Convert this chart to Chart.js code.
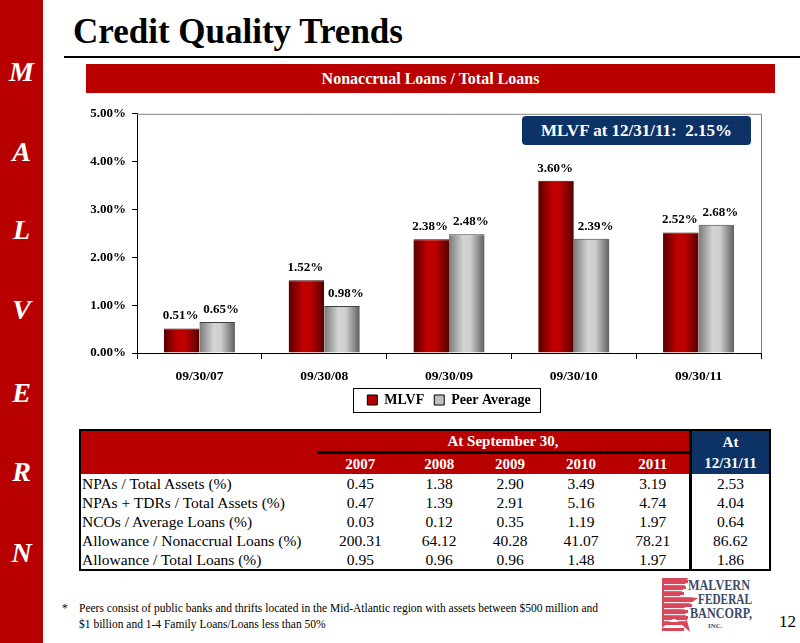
<!DOCTYPE html>
<html>
<head>
<meta charset="utf-8">
<script src="https://cdn.jsdelivr.net/npm/chart.js@4.4.1/dist/chart.umd.min.js"></script>
<style>
  html, body { margin: 0; padding: 0; background: #fff; }
  body { width: 800px; height: 643px; position: relative; overflow: hidden; font-family: "Liberation Serif", "DejaVu Serif", serif; }
  #side { position: absolute; left: 0; top: 0; width: 43px; height: 643px; background: #B80000; }
  .sl { position: absolute; left: 0; width: 43px; text-align: center; color: #fff; font: italic bold 28px "Liberation Serif", serif; line-height: 28px; }
  #title { position: absolute; left: 73px; top: 12px; font: bold 35px "Liberation Serif", serif; color: #000; white-space: nowrap; }
  #tline { position: absolute; left: 64px; top: 56px; width: 736px; height: 2px; background: #000; }
  #banner { position: absolute; left: 86px; top: 64px; width: 689px; height: 29px; background: #B80000; color: #fff; font: bold 16px "Liberation Serif", serif; text-align: center; line-height: 29px; }
  #chartbox { position: absolute; left: 80px; top: 100px; width: 700px; height: 320px; }
  #callout { position: absolute; left: 522px; top: 116px; width: 229px; height: 29px; background: #0D3366; border-radius: 4px; color: #fff; font: bold 17px "Liberation Serif", serif; text-align: center; line-height: 29px; white-space: pre; }
  table { position: absolute; left: 79px; top: 429px; width: 692px; border-collapse: collapse; border: 2px solid #000; font: 15.5px "Liberation Serif", serif; }
  td { padding: 0; height: 19px; line-height: 19px; text-align: center; }
  td.lab { text-align: left; padding-left: 1px; width: 235px; }
  tr.h td { background: #B80000; color: #fff; font-weight: bold; height: 20px; line-height: 20px; font-size: 15px; }
  td.nv { background: #0D3366 !important; border-left: 3px solid #000; width: 77px; }
  td.nvb { border-left: 3px solid #000; }
  td.ul { border-bottom: 3px solid #000; }
  #foot { position: absolute; left: 62px; top: 600px; font: 11.5px "Liberation Serif", serif; line-height: 16px; color: #000; }
  #pg { position: absolute; left: 779px; top: 612px; font: 17px "Liberation Serif", serif; }
  #logo { position: absolute; left: 660px; top: 576px; }
</style>
</head>
<body>
<div id="side"></div>
<div id="title">Credit Quality Trends</div>
<div id="tline"></div>
<div id="banner">Nonaccrual Loans / Total Loans</div>
<div id="chartbox"><canvas id="c" width="700" height="320"></canvas></div>
<div id="callout">MLVF at 12/31/11:  2.15%</div>
<table id="tbl"></table>
<div id="foot"><span style="display:inline-block;width:17px">*</span>Peers consist of public banks and thrifts located in the Mid-Atlantic region with assets between $500 million and<br><span style="display:inline-block;width:17px"></span>$1 billion and 1-4 Family Loans/Loans less than 50%</div>
<svg id="logo" width="96" height="58" viewBox="0 0 96 58">
  <g fill="#D9485A">
    <rect x="2" y="4" width="26" height="3"/>
    <rect x="2" y="10" width="24" height="3"/>
    <rect x="2" y="16" width="22" height="3"/>
    <rect x="2" y="22" width="30" height="3"/>
    <rect x="2" y="28" width="30" height="3"/>
    <rect x="2" y="34" width="26" height="3"/>
    <rect x="2" y="40" width="26" height="3"/>
    <rect x="2" y="46" width="24" height="3"/>
    <rect x="2" y="52" width="22" height="3"/>
    <polygon points="2,2 28,2 20,20 38,22 24,32 30,56 14,42 2,52"/>
  </g>
  <g fill="#fff" opacity="0.9">
    <rect x="4" y="8" width="22" height="1.2"/>
    <rect x="4" y="14" width="20" height="1.2"/>
    <rect x="4" y="20" width="26" height="1.2"/>
    <rect x="4" y="26" width="30" height="1.2"/>
    <rect x="4" y="32" width="26" height="1.2"/>
    <rect x="4" y="38" width="24" height="1.2"/>
    <rect x="4" y="44" width="22" height="1.2"/>
    <rect x="4" y="50" width="20" height="1.2"/>
  </g>
  <g fill="#3B4A6B" font-family="Liberation Serif, serif" font-weight="bold">
    <text x="28" y="14" font-size="15" textLength="62" lengthAdjust="spacingAndGlyphs">MALVERN</text>
    <text x="38" y="28" font-size="15" textLength="54" lengthAdjust="spacingAndGlyphs">FEDERAL</text>
    <text x="30" y="42" font-size="15" textLength="62" lengthAdjust="spacingAndGlyphs">BANCORP,</text>
    <text x="48" y="52" font-size="7">INC.</text>
  </g>
</svg>
<div id="pg">12</div>
<script>
// ---- Data ----
const categories = ["09/30/07", "09/30/08", "09/30/09", "09/30/10", "09/30/11"];
const mlvfValues = [0.51, 1.52, 2.38, 3.60, 2.52];
const peerValues = [0.65, 0.98, 2.48, 2.39, 2.68];
const seriesNames = ["MLVF", "Peer Average"];
const yTicks = [0, 1, 2, 3, 4, 5];

const sideLetters = ["M", "A", "L", "V", "E", "R", "N"];
const sideTops = [58, 138, 216, 296, 379, 458, 539];

const tableYears = ["2007", "2008", "2009", "2010", "2011"];
const tableHeaderGroup = "At September 30,";
const tableLastHead = ["At", "12/31/11"];
const tableRowLabels = ["NPAs / Total Assets (%)", "NPAs + TDRs / Total Assets (%)", "NCOs / Average Loans (%)", "Allowance / Nonaccrual Loans (%)", "Allowance / Total Loans (%)"];
const tableValues = [
  ["0.45", "1.38", "2.90", "3.49", "3.19", "2.53"],
  ["0.47", "1.39", "2.91", "5.16", "4.74", "4.04"],
  ["0.03", "0.12", "0.35", "1.19", "1.97", "0.64"],
  ["200.31", "64.12", "40.28", "41.07", "78.21", "86.62"],
  ["0.95", "0.96", "0.96", "1.48", "1.97", "1.86"]
];

// ---- Sidebar letters ----
const side = document.getElementById('side');
sideLetters.forEach((l, i) => {
  const d = document.createElement('div');
  d.className = 'sl'; d.style.top = sideTops[i] + 'px'; d.textContent = l;
  side.appendChild(d);
});

// ---- Table ----
const tbl = document.getElementById('tbl');
let html = '<tr class="h"><td class="lab"></td><td colspan="5" class="ul">' + tableHeaderGroup + '</td><td class="nv">' + tableLastHead[0] + '</td></tr>';
html += '<tr class="h"><td class="lab"></td>' + tableYears.map(y => '<td>' + y + '</td>').join('') + '<td class="nv">' + tableLastHead[1] + '</td></tr>';
tableRowLabels.forEach((lab, r) => {
  html += '<tr><td class="lab">' + lab + '</td>' + tableValues[r].map((v, j) => '<td' + (j === 5 ? ' class="nvb"' : '') + '>' + v + '</td>').join('') + '</tr>';
});
tbl.innerHTML = html;

// ---- Chart ----
const FONT = "'Liberation Serif', serif";

const gradientBars = {
  id: 'gradientBars',
  beforeDatasetsDraw(chart) {
    const ctx = chart.ctx;
    chart.data.datasets.forEach((ds, di) => {
      const meta = chart.getDatasetMeta(di);
      meta.data.forEach(bar => {
        const half = bar.width / 2;
        const g = ctx.createLinearGradient(bar.x - half, 0, bar.x + half, 0);
        if (di === 0) {
          g.addColorStop(0, '#5A0000');
          g.addColorStop(0.4, '#C00000');
          g.addColorStop(0.6, '#C00000');
          g.addColorStop(1, '#560000');
        } else {
          g.addColorStop(0, '#7A7A7A');
          g.addColorStop(0.4, '#D4D4D4');
          g.addColorStop(0.6, '#CFCFCF');
          g.addColorStop(1, '#5E5E5E');
        }
        bar.options = Object.assign({}, bar.options, { backgroundColor: g });
      });
    });
  }
};

const labelShift = [-1, 4];

const labelsAndFrame = {
  id: 'labelsAndFrame',
  afterDatasetsDraw(chart) {
    const ctx = chart.ctx;
    const a = chart.chartArea;
    ctx.save();
    ctx.strokeStyle = '#808080';
    ctx.lineWidth = 1;
    ctx.beginPath();
    ctx.moveTo(a.left, a.top + 0.5); ctx.lineTo(Math.round(a.right) + 0.5, a.top + 0.5); ctx.lineTo(Math.round(a.right) + 0.5, a.bottom);
    ctx.stroke();
    ctx.font = "bold 13px " + FONT;
    ctx.fillStyle = '#000';
    ctx.textAlign = 'center';
    ctx.textBaseline = 'bottom';
    chart.data.datasets.forEach((ds, di) => {
      const meta = chart.getDatasetMeta(di);
      meta.data.forEach((bar, i) => {
        ctx.fillText(ds.data[i].toFixed(2) + '%', bar.x + labelShift[di], bar.y - 6);
      });
    });
    ctx.restore();
  },
  afterDraw(chart) {
    const lg = chart.legend;
    if (!lg || !lg.legendHitBoxes || !lg.legendHitBoxes.length) return;
    const boxes = lg.legendHitBoxes;
    let l = Infinity, r = -Infinity, t = Infinity, b = -Infinity;
    boxes.forEach(h => { l = Math.min(l, h.left); r = Math.max(r, h.left + h.width); t = Math.min(t, h.top); b = Math.max(b, h.top + h.height); });
    const ctx = chart.ctx;
    ctx.save();
    ctx.strokeStyle = '#000';
    ctx.lineWidth = 1;
    ctx.strokeRect(Math.round(l - 14) + 0.5, Math.round(t - 5) + 0.5, Math.round(r - l + 24), Math.round(b - t + 10));
    ctx.restore();
  }
};

new Chart(document.getElementById('c'), {
  type: 'bar',
  data: {
    labels: categories,
    datasets: [
      { label: seriesNames[0], data: mlvfValues, backgroundColor: '#B00000', borderColor: '#3A0000', borderWidth: { top: 1, left: 0, right: 0, bottom: 0 }, borderSkipped: false },
      { label: seriesNames[1], data: peerValues, backgroundColor: '#BBBBBB', borderColor: '#404040', borderWidth: { top: 1, left: 0, right: 0, bottom: 0 }, borderSkipped: false }
    ]
  },
  options: {
    responsive: false,
    animation: false,
    devicePixelRatio: 1,
    layout: { padding: { top: 13, right: 19, left: 0, bottom: 3 } },
    datasets: { bar: { barPercentage: 1.0, categoryPercentage: 0.57 } },
    scales: {
      x: {
        offset: true,
        grid: { display: true, offset: true, drawOnChartArea: false, drawTicks: true, tickLength: 6, color: '#000' },
        border: { color: '#000', width: 1 },
        ticks: { color: '#000', font: { family: FONT, size: 13.5, weight: 'bold' }, padding: 9, maxRotation: 0 },
        afterFit(s) { s.height = 30; }
      },
      y: {
        min: 0, max: 5,
        afterBuildTicks(s) { s.ticks = yTicks.map(v => ({ value: v })); },
        grid: { display: true, drawOnChartArea: false, drawTicks: true, tickLength: 5, color: '#000' },
        border: { color: '#000', width: 1 },
        ticks: { color: '#000', font: { family: FONT, size: 13, weight: 'bold' }, padding: 6, callback: v => v.toFixed(2) + '%' },
        afterFit(s) { s.width = 57; }
      }
    },
    plugins: {
      legend: {
        display: true,
        position: 'bottom',
        fullSize: false,
        labels: { color: '#000', font: { family: FONT, size: 14, weight: 'bold' }, boxWidth: 10, boxHeight: 10, padding: 10, useBorderRadius: false,
          generateLabels(chart) {
            return chart.data.datasets.map((ds, i) => ({
              text: ds.label, fillStyle: i === 0 ? '#B00000' : '#C0C0C0', strokeStyle: '#000', lineWidth: 1, datasetIndex: i, hidden: false, fontColor: '#000'
            }));
          }
        }
      },
      tooltip: { enabled: false }
    }
  },
  plugins: [gradientBars, labelsAndFrame]
});
</script>
</body>
</html>
